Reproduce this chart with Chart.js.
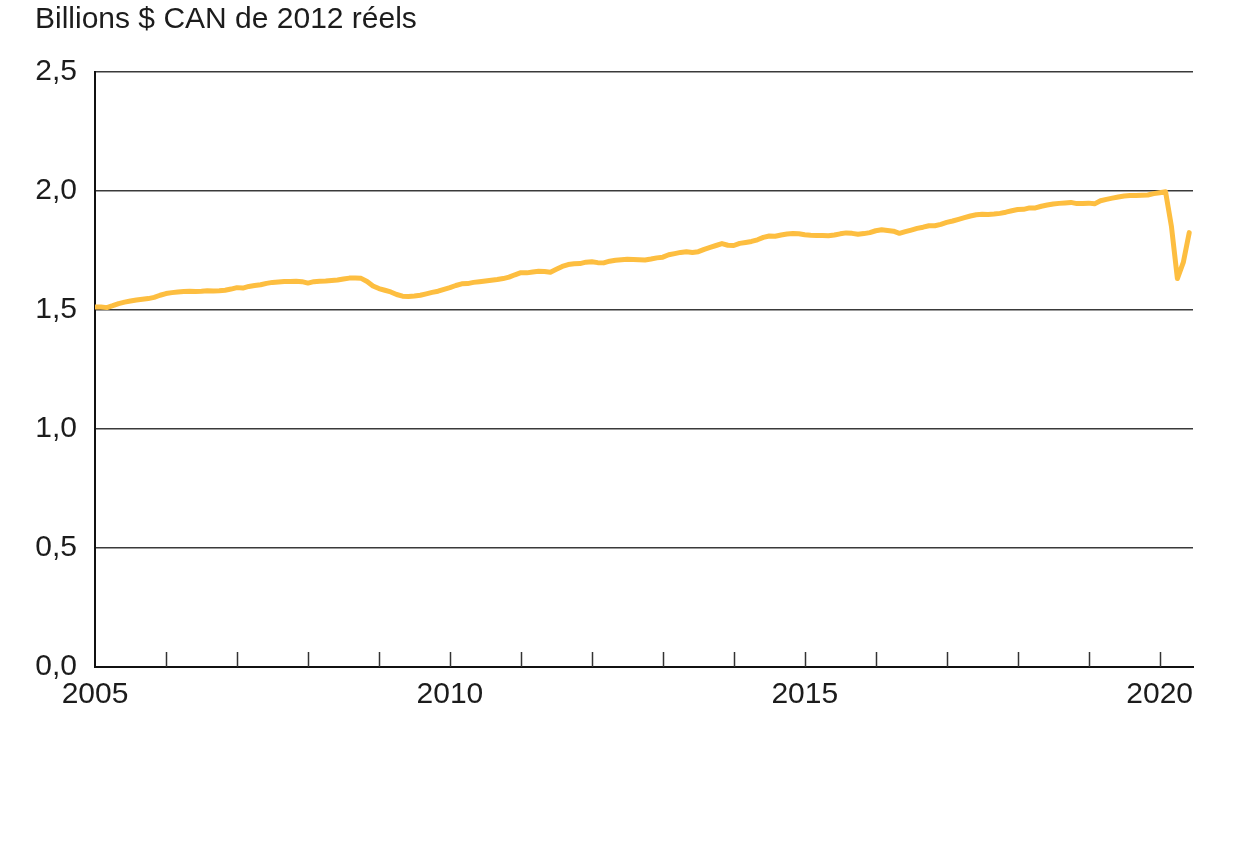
<!DOCTYPE html>
<html lang="fr">
<head>
<meta charset="utf-8">
<title>PIB réel</title>
<script src="https://cdn.jsdelivr.net/npm/chart.js@4/dist/chart.umd.min.js"></script>
<style>
    html, body { margin: 0; padding: 0; background: #ffffff; }
    #wrap { position: relative; width: 1236px; height: 850px; }
</style>
</head>
<body>
<div id="wrap"><canvas id="gdpChart"></canvas></div>
<script>
'use strict';

// Monthly series, January 2005 to June 2020
const START_YEAR = 2005;
const gdpValues = [
    1.513, 1.513, 1.510, 1.518, 1.527, 1.533, 1.538, 1.542, 1.545, 1.548, 1.553, 1.562,
    1.569, 1.573, 1.576, 1.578, 1.579, 1.578, 1.579, 1.581, 1.580, 1.581, 1.583, 1.588,
    1.594, 1.592, 1.599, 1.603, 1.606, 1.612, 1.616, 1.618, 1.620, 1.620, 1.621, 1.619,
    1.613, 1.619, 1.621, 1.622, 1.624, 1.626, 1.630, 1.634, 1.634, 1.633, 1.620, 1.601,
    1.590, 1.583, 1.576, 1.565, 1.558, 1.557, 1.559, 1.562, 1.568, 1.574, 1.579, 1.587,
    1.594, 1.603, 1.610, 1.611, 1.616, 1.619, 1.622, 1.625, 1.628, 1.632, 1.638, 1.648,
    1.657, 1.656, 1.660, 1.663, 1.662, 1.659, 1.671, 1.683, 1.691, 1.694, 1.695, 1.701,
    1.703, 1.699, 1.698, 1.705, 1.709, 1.711, 1.713, 1.712, 1.711, 1.710, 1.714, 1.719,
    1.722, 1.732, 1.737, 1.742, 1.745, 1.742, 1.745, 1.755, 1.763, 1.771, 1.779, 1.772,
    1.771, 1.780, 1.784, 1.788, 1.795, 1.805, 1.811, 1.810, 1.815, 1.819, 1.821, 1.820,
    1.816, 1.814, 1.813, 1.813, 1.812, 1.815, 1.820, 1.824, 1.822, 1.818, 1.821, 1.825,
    1.833, 1.837, 1.834, 1.831, 1.822, 1.829, 1.836, 1.843, 1.848, 1.854, 1.854, 1.860,
    1.868, 1.874, 1.881, 1.888, 1.895, 1.900, 1.902, 1.901, 1.903, 1.906, 1.911, 1.917,
    1.922, 1.923, 1.929, 1.929, 1.936, 1.941, 1.945, 1.948, 1.950, 1.952, 1.947, 1.947,
    1.949, 1.946, 1.959, 1.965, 1.970, 1.975, 1.979, 1.981, 1.981, 1.982, 1.983, 1.989,
    1.993, 1.997, 1.850, 1.632, 1.700, 1.825
];
const yearTicks = [2005, 2006, 2007, 2008, 2009, 2010, 2011, 2012, 2013, 2014, 2015, 2016, 2017, 2018, 2019, 2020];
const yearLabels = [2005, 2010, 2015, 2020];
const yTickValues = [0, 0.5, 1.0, 1.5, 2.0, 2.5];
const axisTitle = 'Billions $ CAN de 2012 réels';

const FONT = '"Liberation Sans", Arial, Helvetica, sans-serif';
const FONT_SIZE = 30;
const TEXT_COLOR = '#1c1c1c';
const LINE_COLOR = '#fdbe40';

function buildPoints() {
    return gdpValues.map((value, index) => ({ x: START_YEAR + index / 12, y: value }));
}

// Year tick marks drawn upward from the bottom axis
const innerTicks = {
    id: 'innerTicks',
    afterDraw(chart) {
        const scale = chart.scales.x;
        const ctx = chart.ctx;
        const bottom = chart.chartArea.bottom;
        ctx.save();
        ctx.strokeStyle = '#333333';
        ctx.lineWidth = 1.5;
        scale.ticks.forEach((tick) => {
            if (tick.value === START_YEAR) {
                return;
            }
            const px = Math.round(scale.getPixelForValue(tick.value)) + 0.5;
            ctx.beginPath();
            ctx.moveTo(px, bottom);
            ctx.lineTo(px, bottom - 15);
            ctx.stroke();
        });
        ctx.restore();
    }
};

function initializeChart() {
    const canvas = document.getElementById('gdpChart');

    new Chart(canvas, {
        type: 'line',
        data: {
            datasets: [{
                label: 'PIB réel',
                data: buildPoints(),
                borderColor: LINE_COLOR,
                borderWidth: 5,
                borderJoinStyle: 'round',
                borderCapStyle: 'round',
                pointRadius: 0,
                tension: 0,
                fill: false
            }]
        },
        options: {
            responsive: true,
            maintainAspectRatio: false,
            animation: false,
            layout: { padding: { left: 35, right: 43, top: 0, bottom: 0 } },
            plugins: {
                legend: { display: false },
                tooltip: { enabled: false },
                title: {
                    display: true,
                    text: axisTitle,
                    align: 'start',
                    color: TEXT_COLOR,
                    font: { family: FONT, size: FONT_SIZE, weight: 'normal' },
                    padding: { top: 2, bottom: 34 }
                }
            },
            scales: {
                x: {
                    type: 'linear',
                    min: START_YEAR,
                    max: 2020.47,
                    afterBuildTicks: (scale) => {
                        scale.ticks = yearTicks.map((value) => ({ value }));
                    },
                    grid: { display: false, drawTicks: false },
                    border: { display: true, color: '#111111', width: 2 },
                    ticks: {
                        autoSkip: false,
                        maxRotation: 0,
                        padding: 10,
                        color: TEXT_COLOR,
                        font: { family: FONT, size: FONT_SIZE },
                        callback: (value) => (yearLabels.includes(value) ? String(value) : '')
                    },
                    afterFit: (scale) => { scale.height = 183; }
                },
                y: {
                    min: 0,
                    max: 2.5,
                    afterBuildTicks: (scale) => {
                        scale.ticks = yTickValues.map((value) => ({ value }));
                    },
                    grid: { color: '#3a3a3a', lineWidth: 1.5, drawTicks: false },
                    border: { display: true, color: '#111111', width: 2 },
                    ticks: {
                        padding: 18,
                        color: TEXT_COLOR,
                        font: { family: FONT, size: FONT_SIZE },
                        callback: (value) => value.toFixed(1).replace('.', ',')
                    },
                    afterFit: (scale) => { scale.width = 60; }
                }
            }
        },
        plugins: [innerTicks]
    });
}

document.addEventListener('DOMContentLoaded', initializeChart);
</script>
</body>
</html>
